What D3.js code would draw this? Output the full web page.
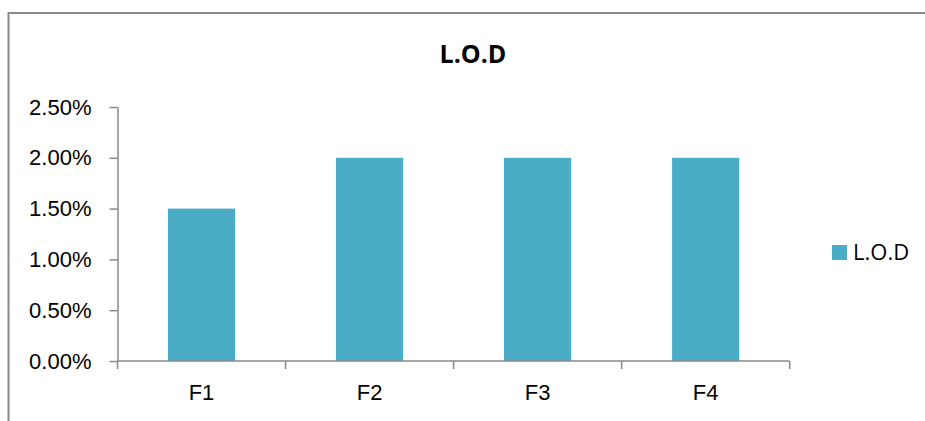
<!DOCTYPE html>
<html lang="en">
<head>
  <meta charset="UTF-8">
  <title>L.O.D</title>
  <style>
    body { margin: 0; background: #fff; }
    svg { display: block; font-family: "Open Sans", "Noto Sans", sans-serif; }
    .axis path, .axis line { stroke: #898989; stroke-width: 1.5px; }
    .axis text { fill: #000; font-size: 22px; }
  </style>
</head>
<body>
  <svg></svg>
  <script src="https://cdnjs.cloudflare.com/ajax/libs/d3/7.8.5/d3.min.js"></script>
  <script>
    var categories = ['F1', 'F2', 'F3', 'F4'];
    var values = [0.015, 0.02, 0.02, 0.02];
    var yTicks = [0, 0.005, 0.01, 0.015, 0.02, 0.025];
    var seriesName = 'L.O.D';

    var width = 925, height = 421;
    var plot = {left: 117.5, right: 789.7, top: 107, bottom: 361};
    var barColor = '#4BACC6';

    var svg = d3.select('svg')
                .attr('width', width)
                .attr('height', height);

    // chart frame (right and bottom are cut off in the original)
    svg.append('path')
      .attr('d', 'M8.5,' + height + 'V13H' + width)
      .attr('fill', 'none')
      .attr('stroke', '#898989')
      .attr('stroke-width', 2);

    var x = d3.scaleBand()
              .domain(categories)
              .range([plot.left, plot.right])
              .paddingInner(0.6)
              .paddingOuter(0.3);

    var y = d3.scaleLinear()
              .domain([0, 0.025])
              .range([plot.bottom, plot.top]);

    // bars
    svg.append('g')
      .selectAll('rect')
      .data(values)
      .enter()
      .append('rect')
        .attr('x', function(d, i) { return x(categories[i]); })
        .attr('y', function(d) { return y(d); })
        .attr('width', x.bandwidth())
        .attr('height', function(d) { return plot.bottom - y(d); })
        .attr('fill', barColor);

    // y axis
    svg.append('g')
      .attr('class', 'axis')
      .attr('transform', 'translate(' + plot.left + ',0)')
      .call(d3.axisLeft(y).tickValues(yTicks).tickFormat(d3.format('.2%'))
              .tickSize(8).tickSizeOuter(0).tickPadding(18));

    // x axis with ticks between categories
    var xAxis = svg.append('g')
      .attr('class', 'axis')
      .attr('transform', 'translate(0,' + plot.bottom + ')')
      .call(d3.axisBottom(x).tickSize(0).tickPadding(23));
    xAxis.select('.domain').attr('d', 'M' + plot.left + ',0H' + plot.right);
    var step = (plot.right - plot.left) / categories.length;
    xAxis.selectAll('.sep')
      .data(d3.range(categories.length + 1))
      .enter()
      .append('line')
        .attr('class', 'sep')
        .attr('x1', function(d) { return plot.left + d * step; })
        .attr('x2', function(d) { return plot.left + d * step; })
        .attr('y1', 0)
        .attr('y2', 8);
    xAxis.selectAll('text').attr('dy', '0.71em');

    // title
    svg.append('text')
      .attr('x', 473)
      .attr('y', 63)
      .attr('text-anchor', 'middle')
      .attr('font-size', 25)
      .attr('font-weight', 'bold')
      .text(seriesName);

    // legend
    var legend = svg.append('g').attr('transform', 'translate(832,245)');
    legend.append('rect')
      .attr('width', 15)
      .attr('height', 15)
      .attr('fill', barColor);
    legend.append('text')
      .attr('x', 21)
      .attr('y', 15)
      .attr('font-size', 22)
      .text(seriesName);
  </script>
</body>
</html>
